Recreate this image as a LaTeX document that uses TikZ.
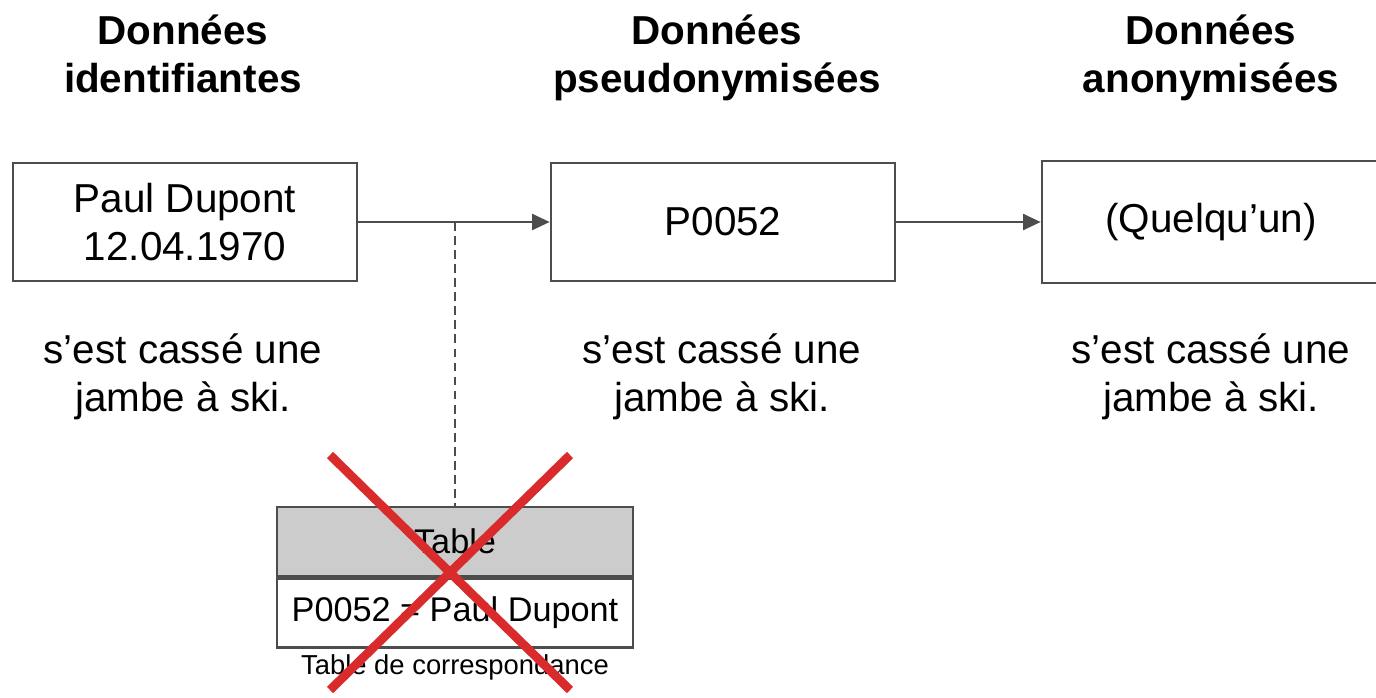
\documentclass[tikz,border=0pt]{standalone}
\usepackage{fontspec}
\setmainfont{Liberation Sans}
\usetikzlibrary{arrows.meta,positioning}
\definecolor{linegray}{HTML}{4D4D4D}
\definecolor{headgray}{HTML}{CCCCCC}
\definecolor{crossred}{HTML}{D92B2B}
\tikzset{
  databox/.style={draw=linegray,line width=1.5pt,minimum width=6.88cm,minimum height=2.36cm,align=center,font=\fontsize{23}{27}\selectfont},
  heading/.style={anchor=north,align=center,font=\fontsize{23}{27}\bfseries\selectfont},
  remark/.style={anchor=north,align=center,font=\fontsize{23}{27}\selectfont},
  flow/.style={draw=linegray,line width=1.5pt,-{Triangle[length=10pt,width=9pt]}},
  tablerow/.style={draw=linegray,line width=1.4pt,minimum width=7.12cm,minimum height=1.38cm,font=\fontsize{19.5}{23}\selectfont},
  crossline/.style={draw=crossred,line width=5pt}
}
\begin{document}
\begin{tikzpicture}[x=0.02cm,y=-0.02cm]
\useasboundingbox[fill=white](0,0) rectangle (1376,697);
\node[heading] (hid) at (183,9) {Données\\identifiantes};
\node[heading] (hps) at (717,9) {Données\\pseudonymisées};
\node[heading] (han) at (1211,9) {Données\\anonymisées};

\node[databox] (paul) at (185,222) {Paul Dupont\\12.04.1970};
\node[databox] (pseudo) at (723,222) {P0052};
\node[databox,minimum height=2.44cm] (anon) at (1214,222) {\hspace*{-0.06cm}(Quelqu’un)\hspace*{0.06cm}};

\node[remark] (rid) at (183,328) {s’est cassé une\\jambe à ski.};
\node[remark] (rps) at (722,328) {s’est cassé une\\jambe à ski.};
\node[remark] (ran) at (1211,328) {s’est cassé une\\jambe à ski.};

\draw[flow] (paul.east) -- (pseudo.west);
\draw[flow] (pseudo.east) -- (anon.west);

\node[tablerow,fill=headgray] (thead) at (455,541.5) {Table};
\node[tablerow,below=0pt of thead] (trow) {P0052 = Paul Dupont};
\node[below=1pt of trow,inner sep=2pt,font=\fontsize{15.6}{18}\selectfont] (tcap) {Table de correspondance};
\coordinate (split) at (455,222);
\draw[linegray,line width=1.4pt,dashed,dash pattern=on 5pt off 3pt] (split) -- (thead.north);

\coordinate (xa) at (330,455);\coordinate (xb) at (570,455);
\coordinate (xc) at (330,690);\coordinate (xd) at (570,690);
\draw[crossline] (xa) -- (xd) (xb) -- (xc);
\end{tikzpicture}
\end{document}
